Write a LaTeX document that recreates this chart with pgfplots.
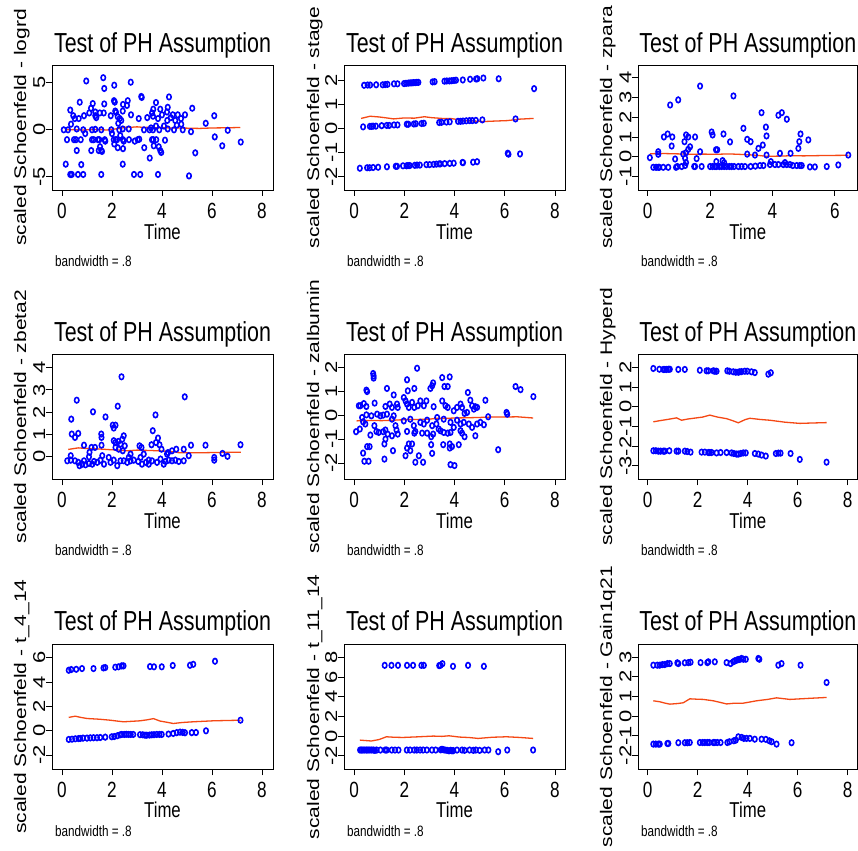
\documentclass[border=0pt]{standalone}
\usepackage{fontspec}
\setmainfont{Liberation Sans}
\newfontfamily\cf{Liberation Sans}[FakeStretch=0.78]
\usepackage{graphicx}
\usepackage{pgfplots}
\pgfplotsset{compat=1.18}
\definecolor{lowess}{RGB}{245,72,20}
\newcommand\xtf{\cf\fontsize{22pt}{22pt}\selectfont}
\newcommand\ytf{\fontsize{22pt}{22pt}\selectfont}
\newcommand\ttf{\cf\fontsize{27.5pt}{27.5pt}\selectfont}
\newcommand\ltf{\fontsize{21pt}{21pt}\selectfont}
\newcommand\tmf{\cf\fontsize{21.5pt}{21.5pt}\selectfont}
\newcommand\nbf{\cf\fontsize{15pt}{15pt}\selectfont}
\pgfplotsset{
  ph/.style={
    scale only axis, height=125pt,
    axis line style={line width=0.9pt},
    tick style={line width=0.9pt, black},
    tick align=outside, major tick length=6pt,
    tick pos=left,
    /pgf/number format/assume math mode=true,
    xticklabel style={font=\xtf, anchor=base, yshift=-22.5pt, inner sep=0pt},
    yticklabel={\scalebox{1}[0.78]{\pgfmathprintnumber{\tick}}},
    yticklabel style={font=\ytf, inner sep=0pt, xshift=-1pt, rotate=90, anchor=base},
  },
  sc/.style={only marks, mark=o, blue, mark size=2.75pt, mark options={xscale=0.8, line width=1.6pt}},
  lw/.style={no marks, lowess, line width=1.3pt},
}
\newcommand\ptext[9]{%
  \node[anchor=base, inner sep=0pt, font=\ttf] at (#1pt,#4pt) {Test of PH Assumption};
  \node[anchor=base, inner sep=0pt, font=\tmf] at (#1pt,#5pt) {Time};
  \node[anchor=base, inner sep=0pt, rotate=90, font=\ltf] at (#2pt,#3pt) {\scalebox{1}[0.8]{scaled Schoenfeld - #9}};
  \node[anchor=base west, inner sep=0pt, font=\nbf] at (#7pt,#6pt) {bandwidth = .8};
  \ignorespaces#8}
\begin{document}
\begin{tikzpicture}
\useasboundingbox (0,0) rectangle (858pt,850pt);
\clip (0,0) rectangle (858pt,850pt);
\fill[white] (0,0) rectangle (858pt,850pt);
% ---------------- Panel 1: logrd
\begin{axis}[ph, at={(52pt,660pt)}, anchor=south west, width=221pt,
  xmin=-0.4, xmax=8.44, ymin=-6.4, ymax=6.9, xtick={0,2,4,6,8}, ytick={-5,0,5}]
\addplot[sc] coordinates {
(0.97,5.2)(1.65,5.55)(1.69,4.4)(2.09,4.75)(2.75,5.07)(3.17,3.55)(3.19,3.45)(4.28,3.5)
(0.71,2.94)(2.08,3.1)(2.11,2.95)(1.23,2.8)(1.69,2.76)(2.63,3.1)(2.6,2.6)(3.76,2.9)
(0.33,2.1)(1.16,2.3)(1.33,1.9)(1.51,1.8)(1.09,1.8)(1.67,1.8)(2.13,2.0)(2.16,1.85)
(2.43,2.0)(2.44,2.7)(3.65,2.2)(3.93,2.2)(4.23,2.4)(5.21,2.3)(6.09,1.5)(5.75,0.7)
(0.45,1.5)(0.51,1.2)(0.67,1.2)(0.88,1.5)(1.33,1.5)(1.37,1.3)(1.95,1.5)(2.23,1.4)
(2.31,1.2)(2.37,1.0)(2.25,0.7)(2.76,1.6)(3.07,1.2)(3.41,1.3)(3.6,1.8)(3.64,1.45)
(3.84,1.2)(4.0,1.6)(4.2,1.9)(4.35,1.3)(4.43,1.6)(4.63,1.6)(4.76,1.2)(4.92,1.6)
(4.53,1.0)(4.21,1.0)(4.77,0.6)(0.07,0)(0.24,0)(0.36,0.6)(0.59,0.1)(0.85,0)
(1.2,0)(1.33,0.05)(1.57,0)(1.97,0)(2.29,0)(2.43,0.1)(2.67,0.1)(3.28,0)(3.5,0)
(3.56,0.2)(3.64,0)(3.76,0.4)(3.89,0)(4.08,0.4)(4.23,0.1)(4.48,0)(4.59,0.5)(4.83,0)
(5.16,-0.2)(6.63,-0.05)(0.2,-1.05)(0.48,-1.05)(0.56,-1.05)(0.75,-1.05)(0.93,-0.4)
(1.2,-1.05)(1.27,-1.05)(1.44,-1.05)(1.49,-1.05)(1.71,-1.05)(2.07,-1.05)(2.15,-1.05)
(2.2,-1.05)(2.44,-1.05)(2.68,-1.05)(2.91,-1.2)(3.03,-1.05)(3.09,-1.0)(3.6,-1.05)
(3.65,-1.05)(3.77,-1.05)(4.12,-1.1)(2.09,-1.5)(2.23,-1.9)(2.47,-1.2)(2.0,-0.4)
(2.33,-0.6)(3.29,-1.9)(3.67,-1.7)(3.87,-1.8)(3.93,-2.2)(3.97,-2.4)(6.11,-0.75)
(6.41,-1.7)(7.15,-1.3)(5.33,-2.45)(0.59,-2.2)(1.17,-2.2)(1.47,-2.2)(1.57,-2.2)
(2.44,-2.0)(1.52,-1.8)(3.51,-3.0)(0.15,-3.65)(0.77,-3.7)(2.43,-3.65)(0.33,-4.75)
(0.39,-4.75)(0.64,-4.75)(0.85,-4.75)(1.57,-4.75)(2.88,-4.75)(3.13,-4.75)(3.84,-4.75)
(5.08,-4.9)(1.73,-1.2)(1.6,-2.3)};
\addplot[lw] coordinates {(0.15,0.0)(0.5,0.02)(0.8,-0.03)(1.0,0.0)(1.3,0.03)(1.5,0.02)(1.8,-0.02)(2.0,0.05)(2.3,0.15)(2.6,0.3)(2.8,0.28)(3.0,0.32)(3.3,0.25)(3.5,0.28)(3.8,0.22)(4.0,0.25)(4.3,0.2)(4.5,0.2)(5.0,0.18)(5.5,0.15)(6.0,0.2)(6.6,0.22)(7.13,0.25)};
\end{axis}
% ---------------- Panel 2: stage
\begin{axis}[ph, at={(344pt,660pt)}, anchor=south west, width=221pt,
  xmin=-0.4, xmax=8.4, ymin=-2.55, ymax=2.62, xtick={0,2,4,6,8}, ytick={-2,-1,0,1,2}]
\addplot[sc] coordinates {
(0.4,1.78)(0.54,1.79)(0.64,1.79)(0.88,1.8)(1.14,1.8)(1.24,1.81)(1.33,1.82)(1.59,1.84)
(1.73,1.84)(1.99,1.85)(2.07,1.86)(2.16,1.87)(2.23,1.88)(2.3,1.88)(2.36,1.89)(2.43,1.89)
(2.5,1.9)(2.56,1.9)(3.13,1.92)(3.21,1.93)(3.6,1.95)(3.69,1.96)(3.8,1.96)(3.89,1.97)
(3.98,1.98)(4.06,1.99)(4.33,2.0)(4.62,2.03)(4.86,2.04)(4.91,2.05)(5.15,2.08)(5.76,2.05)(7.17,1.64)
(0.36,0.06)(0.63,0.08)(0.7,0.08)(0.76,0.09)(0.87,0.09)(1.1,0.11)(1.3,0.12)(1.4,0.12)
(1.59,0.14)(1.73,0.14)(2.1,0.17)(2.16,0.17)(2.38,0.18)(2.46,0.19)(2.69,0.2)(2.78,0.21)
(3.39,0.24)(3.48,0.25)(3.68,0.26)(3.81,0.27)(4.14,0.29)(4.24,0.29)(4.34,0.3)(4.47,0.31)
(4.6,0.32)(4.71,0.32)(4.85,0.33)(5.11,0.35)(6.43,0.39)
(0.23,-1.65)(0.52,-1.63)(0.62,-1.63)(0.76,-1.62)(0.96,-1.61)(1.31,-1.59)(1.66,-1.57)
(1.71,-1.57)(1.95,-1.55)(2.09,-1.55)(2.15,-1.54)(2.22,-1.54)(2.42,-1.53)(2.51,-1.52)
(2.62,-1.52)(2.88,-1.5)(3.01,-1.5)(3.17,-1.49)(3.28,-1.48)(3.39,-1.47)(3.44,-1.47)
(3.61,-1.46)(3.81,-1.45)(3.97,-1.44)(4.32,-1.41)(4.34,-1.42)(4.74,-1.4)(4.9,-1.38)
(6.12,-1.03)(6.15,-1.07)(6.61,-1.06)};
\addplot[lw] coordinates {(0.28,0.41)(0.64,0.5)(1.0,0.47)(1.3,0.43)(1.57,0.39)(2.0,0.43)(2.4,0.42)(2.8,0.48)(3.1,0.44)(3.5,0.41)(3.9,0.4)(4.36,0.32)(4.8,0.3)(5.15,0.28)(5.6,0.3)(6.1,0.32)(6.6,0.38)(7.15,0.41)};
\end{axis}
% ---------------- Panel 3: zpara
\begin{axis}[ph, at={(638.3pt,660pt)}, anchor=south west, width=219pt,
  xmin=-0.3, xmax=6.72, ymin=-1.69, ymax=4.65, xtick={0,2,4,6}, ytick={-1,0,1,2,3,4}]
\addplot[sc] coordinates {
(0.07,-0.05)(0.34,0.25)(0.34,0.12)(0.18,-0.54)(0.27,-0.54)(0.37,-0.54)(0.5,-0.54)
(0.66,-0.54)(0.91,-0.54)(0.52,1.0)(0.64,1.15)(0.79,1.0)(0.72,2.62)(0.77,0.54)(0.88,-0.12)
(0.98,2.88)(0.95,-0.5)(1.09,-0.5)(1.2,-0.45)(1.18,0.76)(1.23,1.1)(1.3,1.0)(1.14,0.13)
(1.23,0.2)(1.3,0.37)(1.2,-0.08)(1.23,-0.3)(1.36,0.5)(1.52,1.0)(1.49,-0.5)(1.52,-0.5)
(1.57,-0.1)(1.68,3.58)(1.68,0.25)(1.73,-0.5)(2.05,1.25)(2.08,1.1)(2.0,-0.5)(2.08,-0.5)
(2.16,-0.5)(2.21,-0.5)(2.3,-0.5)(2.37,-0.5)(2.45,-0.5)(2.53,-0.5)(2.62,-0.5)(2.69,-0.5)
(2.77,-0.5)(2.91,-0.5)(3.01,-0.5)(3.12,-0.5)(2.19,0.35)(2.23,0.35)(2.2,-0.25)(2.43,1.15)
(2.45,-0.3)(2.64,0.75)(2.75,3.08)(3.07,1.44)(3.19,0.88)(3.19,0.13)(3.3,0.76)(3.44,0.08)
(3.55,0.42)(3.65,2.23)(3.69,0.59)(3.79,1.5)(3.81,1.05)(3.81,0.08)(3.3,-0.5)(3.45,-0.48)
(3.6,-0.45)(3.71,-0.45)(3.92,-0.4)(4.08,-0.4)(4.19,-0.4)(3.95,-0.25)(4.19,2.1)(4.3,2.23)
(4.46,1.9)(4.24,0.17)(4.35,-0.4)(4.4,-0.3)(4.46,-0.4)(4.56,-0.4)(4.65,-0.45)(4.78,-0.45)
(4.88,-0.45)(4.94,-0.45)(4.58,0.17)(4.83,0.42)(4.86,0.76)(4.9,1.15)(5.15,0.85)(5.2,-0.52)
(5.36,-0.52)(5.74,-0.5)(6.11,-0.42)(6.43,0.08)(0.34,-0.54)(2.4,-0.2)};
\addplot[lw] coordinates {(0.07,0.15)(0.5,0.16)(1.0,0.14)(1.4,0.12)(1.8,0.13)(2.2,0.12)(2.6,0.14)(2.9,0.12)(3.2,0.1)(3.5,0.07)(3.8,0.02)(4.3,0.03)(4.6,0.05)(5.0,0.04)(5.7,0.06)(6.43,0.07)};
\end{axis}
% ---------------- Panel 4: zbeta2
\begin{axis}[ph, at={(52pt,370.7pt)}, anchor=south west, width=221pt,
  xmin=-0.4, xmax=8.44, ymin=-1.01, ymax=4.6, xtick={0,2,4,6,8}, ytick={0,1,2,3,4}]
\addplot[sc] coordinates {
(2.38,3.59)(4.91,2.69)(0.59,2.54)(1.24,2.02)(2.23,2.27)(0.37,1.69)(1.74,1.79)(3.74,1.88)
(2.03,1.42)(2.14,1.42)(2.07,1.29)(1.57,1.02)(1.58,0.87)(0.39,1.02)(0.52,0.87)(0.65,1.05)
(3.63,1.17)(0.88,0.52)(1.18,0.42)(1.32,0.42)(1.1,0.2)(1.58,0.52)(2.07,0.72)(2.14,0.64)
(2.25,0.69)(2.34,0.57)(2.41,0.79)(2.47,0.94)(2.14,0.42)(2.27,0.34)(2.43,0.27)(2.51,0.49)
(3.1,0.49)(3.18,0.42)(3.58,0.54)(3.76,0.64)(3.84,0.84)(3.9,0.54)(3.98,0.34)(4.24,0.19)
(4.4,0.27)(4.57,0.34)(4.87,0.34)(5.16,0.52)(5.74,0.52)(7.14,0.54)(6.09,-0.03)(6.09,-0.15)
(6.42,0.15)(6.62,0.02)(0.21,-0.18)(0.35,-0.15)(0.52,-0.18)(0.65,-0.25)(0.7,-0.4)(0.81,-0.33)
(0.94,-0.36)(1.08,-0.3)(1.28,-0.21)(1.41,-0.25)(1.54,-0.15)(1.68,-0.33)(1.94,-0.25)
(2.07,-0.15)(2.21,-0.4)(2.34,-0.18)(2.47,-0.18)(2.61,-0.25)(2.74,-0.18)(2.87,-0.15)
(3.05,-0.21)(3.2,-0.33)(3.36,-0.25)(3.47,-0.15)(3.6,-0.18)(3.8,-0.25)(3.94,-0.1)(4.14,-0.21)
(4.27,-0.15)(4.4,-0.18)(4.53,-0.15)(4.67,-0.21)(4.87,-0.18)(5.07,0.05)(1.61,0.05)(1.08,0)
(0.35,0.05)(2.74,0.12)(3.27,0.12)(4.2,0.12)(3.14,-0.03)(2.67,-0.03)(0.88,-0.18)(1.87,-0.03)
(3.47,-0.33)(4.07,-0.33)(1.21,-0.33)};
\addplot[lw] coordinates {(0.25,0.33)(0.65,0.4)(1.0,0.37)(1.5,0.35)(1.9,0.32)(2.3,0.3)(2.6,0.27)(3.0,0.3)(3.3,0.29)(3.6,0.28)(4.2,0.25)(4.5,0.22)(4.7,0.18)(5.0,0.18)(5.5,0.18)(6.0,0.19)(6.5,0.2)(7.15,0.2)};
\end{axis}
% ---------------- Panel 5: zalbumin
\begin{axis}[ph, at={(344pt,370.7pt)}, anchor=south west, width=221pt,
  xmin=-0.4, xmax=8.4, ymin=-2.67, ymax=2.53, xtick={0,2,4,6,8}, ytick={-2,-1,0,1,2}]
\addplot[sc] coordinates {
(2.51,1.95)(0.76,1.73)(0.78,1.63)(0.78,1.54)(2.11,1.47)(3.15,1.34)(3.11,1.22)(3.04,1.11)
(3.51,1.56)(3.81,1.59)(3.6,1.19)(3.73,1.19)(6.43,1.19)(6.63,1.06)(7.14,0.77)(0.49,1.04)
(0.52,0.98)(1.31,1.11)(1.58,0.84)(2.14,1.01)(2.4,1.11)(4.53,0.94)(0.19,0.39)(0.25,0.39)
(0.39,0.48)(0.49,0.36)(0.82,0.5)(1.25,0.36)(1.42,0.46)(1.51,0.32)(1.71,0.46)(1.74,0.32)
(1.98,0.73)(2.05,0.59)(2.11,0.46)(2.18,0.32)(2.31,0.53)(2.4,0.32)(2.54,0.39)(2.64,0.59)
(2.78,0.39)(2.88,0.59)(3.17,0.35)(3.51,0.59)(3.64,0.39)(3.73,0.32)(3.97,0.18)(4.1,0.32)
(4.24,0.46)(4.3,0.32)(4.4,0.07)(4.5,0.11)(4.63,0.62)(4.7,0.39)(4.83,0.35)(4.9,0.32)
(4.77,0.25)(5.23,0.62)(5.34,-0.07)(6.07,0.11)(6.1,0.04)(0.32,-0.1)(0.49,0.01)(0.69,-0.03)
(0.92,0.04)(1.05,-0.03)(1.16,0)(1.31,0.04)(1.51,-0.17)(1.58,-0.03)(0.08,-0.69)(0.23,-0.58)
(0.36,-0.28)(0.45,-0.37)(0.65,-0.83)(0.81,-0.44)(0.89,-0.68)(0.98,-0.72)(1.16,-0.69)
(1.25,-0.62)(1.34,-0.79)(1.51,-0.86)(1.65,-0.44)(1.69,-0.62)(1.74,-0.79)(2.11,-0.68)
(2.4,-0.75)(2.44,-0.68)(2.71,-0.75)(2.91,-0.75)(3.07,-0.9)(3.15,-0.79)(3.44,-0.65)
(3.57,-0.72)(3.73,-0.75)(3.84,-0.72)(3.97,-0.51)(4.24,-0.65)(4.3,-0.75)(4.4,-0.9)
(4.83,-0.86)(3.28,-0.37)(3.37,-0.58)(2.38,-0.44)(0.36,-1.58)(0.52,-1.31)(0.62,-1.31)
(0.41,-1.92)(0.58,-1.92)(1.21,-1.83)(1.25,-1.0)(1.21,-1.2)(1.55,-1.48)(2.05,-1.69)
(2.11,-1.37)(2.18,-1.2)(2.31,-1.2)(2.24,-1.48)(2.44,-1.96)(2.75,-1.96)(2.58,-1.69)
(3.07,-1.23)(3.11,-1.59)(3.55,-1.23)(3.81,-1.2)(3.9,-1.31)(4.17,-1.23)(3.84,-2.06)
(4.0,-2.1)(5.74,-1.44)(3.81,-1.37)(1.98,-0.24)(2.24,-0.17)(2.64,-0.3)(2.91,-0.21)
(3.31,-0.1)(3.57,-0.17)(3.84,-0.3)(4.1,-0.21)(4.37,-0.3)(4.57,-0.37)(4.7,-0.51)(4.9,-0.37)
(5.03,-0.3)(5.17,-0.4)(4.24,-0.37)(3.11,-0.44)(2.78,-0.37)};
\addplot[lw] coordinates {(0.1,-0.24)(0.6,-0.22)(1.1,-0.23)(1.6,-0.21)(2.0,-0.19)(2.5,-0.18)(3.0,-0.17)(3.3,-0.13)(3.57,-0.14)(4.0,-0.12)(4.5,-0.11)(4.9,-0.1)(5.5,-0.08)(6.0,-0.08)(6.5,-0.07)(7.13,-0.12)};
\end{axis}
% ---------------- Panel 6: Hyperd
\begin{axis}[ph, at={(638.3pt,370.7pt)}, anchor=south west, width=219pt,
  xmin=-0.37, xmax=8.39, ymin=-3.68, ymax=2.67, xtick={0,2,4,6,8}, ytick={-3,-2,-1,0,1,2}]
\addplot[sc] coordinates {
(0.23,1.95)(0.47,1.91)(0.63,1.9)(0.69,1.9)(0.76,1.9)(0.83,1.91)(0.89,1.91)(1.23,1.9)
(1.49,1.9)(2.09,1.86)(2.36,1.83)(2.43,1.83)(2.63,1.83)(2.69,1.81)(2.76,1.81)(3.19,1.83)
(3.27,1.81)(3.43,1.78)(3.53,1.76)(3.63,1.76)(3.69,1.78)(3.76,1.79)(3.89,1.81)(3.99,1.81)
(4.16,1.78)(4.29,1.74)(4.83,1.66)(4.93,1.73)
(0.23,-2.23)(0.33,-2.23)(0.43,-2.25)(0.52,-2.25)(0.63,-2.25)(0.69,-2.25)(0.87,-2.23)
(1.16,-2.25)(1.23,-2.25)(1.49,-2.25)(1.59,-2.27)(1.72,-2.3)(2.16,-2.3)(2.29,-2.3)
(2.43,-2.32)(2.49,-2.32)(2.56,-2.32)(2.76,-2.34)(2.92,-2.32)(3.16,-2.32)(3.36,-2.34)
(3.45,-2.37)(3.56,-2.4)(3.63,-2.4)(3.72,-2.37)(3.83,-2.34)(3.93,-2.34)(4.29,-2.37)
(4.43,-2.4)(4.56,-2.45)(4.73,-2.5)(5.13,-2.37)(5.23,-2.35)(5.32,-2.35)(5.72,-2.37)
(6.09,-2.67)(7.16,-2.81)};
\addplot[lw] coordinates {(0.23,-0.76)(0.5,-0.7)(0.8,-0.64)(1.16,-0.56)(1.36,-0.68)(1.6,-0.62)(1.96,-0.56)(2.2,-0.52)(2.49,-0.42)(2.8,-0.52)(3.16,-0.6)(3.4,-0.7)(3.63,-0.81)(3.9,-0.65)(4.09,-0.58)(4.5,-0.64)(4.89,-0.68)(5.5,-0.78)(6.09,-0.84)(6.6,-0.82)(7.16,-0.8)};
\end{axis}
% ---------------- Panel 7: t_4_14
\begin{axis}[ph, at={(52pt,80.7pt)}, anchor=south west, width=221pt,
  xmin=-0.4, xmax=8.44, ymin=-3.16, ymax=7.1, xtick={0,2,4,6,8}, ytick={-2,0,2,4,6}]
\addplot[sc] coordinates {
(0.27,4.97)(0.37,5.03)(0.57,5.05)(0.8,5.11)(1.26,5.11)(1.66,5.16)(1.73,5.19)(2.13,5.22)
(2.26,5.25)(2.39,5.33)(2.46,5.33)(3.52,5.27)(3.68,5.25)(3.99,5.25)(4.43,5.36)(5.12,5.38)
(5.25,5.46)(6.12,5.71)
(0.27,-0.71)(0.4,-0.69)(0.53,-0.66)(0.66,-0.64)(0.73,-0.63)(0.84,-0.6)(1.0,-0.6)
(1.13,-0.58)(1.26,-0.57)(1.4,-0.57)(1.53,-0.55)(1.73,-0.52)(1.99,-0.49)(2.09,-0.47)
(2.22,-0.4)(2.33,-0.33)(2.39,-0.3)(2.49,-0.3)(2.57,-0.29)(2.66,-0.3)(2.75,-0.3)(2.85,-0.3)
(3.12,-0.32)(3.23,-0.33)(3.32,-0.36)(3.39,-0.36)(3.5,-0.35)(3.59,-0.33)(3.68,-0.32)
(3.79,-0.3)(3.9,-0.3)(3.99,-0.3)(4.26,-0.27)(4.45,-0.22)(4.59,-0.15)(4.72,-0.11)
(4.83,-0.13)(4.92,-0.16)(5.19,-0.15)(5.36,-0.14)(5.76,0.0)(7.14,0.87)};
\addplot[lw] coordinates {(0.27,1.1)(0.53,1.2)(0.75,1.1)(1.0,1.01)(1.5,0.95)(1.93,0.87)(2.2,0.8)(2.46,0.74)(2.8,0.78)(3.12,0.82)(3.4,0.9)(3.66,1.0)(3.92,0.8)(4.2,0.7)(4.45,0.6)(4.8,0.68)(5.25,0.74)(6.05,0.82)(7.14,0.87)};
\end{axis}
% ---------------- Panel 8: t_11_14
\begin{axis}[ph, at={(344pt,80.7pt)}, anchor=south west, width=221pt,
  xmin=-0.4, xmax=8.4, ymin=-3.38, ymax=9.34, xtick={0,2,4,6,8}, ytick={-2,0,2,4,6,8}]
\addplot[sc] coordinates {
(1.22,7.2)(1.49,7.2)(1.75,7.2)(2.11,7.2)(2.35,7.2)(2.68,7.2)(2.78,7.2)(3.39,7.17)
(3.44,7.2)(3.52,7.37)(3.94,7.1)(4.54,7.2)(5.17,7.1)
(0.24,-1.42)(0.3,-1.42)(0.36,-1.42)(0.43,-1.42)(0.5,-1.42)(0.56,-1.42)(0.63,-1.42)
(0.7,-1.42)(0.77,-1.42)(0.83,-1.45)(0.9,-1.42)(1.05,-1.42)(1.24,-1.42)(1.3,-1.42)
(1.5,-1.42)(1.63,-1.42)(1.77,-1.42)(2.1,-1.42)(2.23,-1.42)(2.4,-1.42)(2.5,-1.42)
(2.63,-1.42)(2.75,-1.42)(2.9,-1.42)(3.1,-1.42)(3.25,-1.42)(3.45,-1.4)(3.5,-1.35)
(3.55,-1.38)(3.62,-1.42)(3.7,-1.45)(3.78,-1.5)(3.85,-1.45)(3.9,-1.5)(3.95,-1.48)
(4.1,-1.42)(4.3,-1.42)(4.4,-1.45)(4.6,-1.42)(4.75,-1.45)(4.85,-1.42)(5.0,-1.45)
(5.2,-1.42)(5.35,-1.42)(5.74,-1.59)(6.1,-1.42)(7.13,-1.42)};
\addplot[lw] coordinates {(0.23,-0.41)(0.69,-0.5)(1.0,-0.35)(1.29,-0.07)(1.6,-0.12)(1.95,-0.14)(2.5,-0.08)(3.15,0)(3.5,-0.03)(3.78,0.03)(4.2,-0.1)(4.6,-0.15)(4.94,-0.24)(5.5,-0.12)(6.07,-0.07)(6.6,-0.14)(7.13,-0.24)};
\end{axis}
% ---------------- Panel 9: Gain1q21
\begin{axis}[ph, at={(638.3pt,80.7pt)}, anchor=south west, width=219pt,
  xmin=-0.37, xmax=8.39, ymin=-2.7, ymax=3.65, xtick={0,2,4,6,8}, ytick={-2,-1,0,1,2,3}]
\addplot[sc] coordinates {
(0.23,2.59)(0.39,2.59)(0.49,2.59)(0.6,2.62)(0.69,2.62)(0.8,2.67)(0.89,2.67)(1.19,2.71)
(1.23,2.67)(1.49,2.71)(1.63,2.72)(1.72,2.74)(2.12,2.72)(2.39,2.72)(2.43,2.76)(2.69,2.76)
(3.16,2.72)(3.32,2.67)(3.43,2.76)(3.49,2.81)(3.56,2.84)(3.63,2.88)(3.69,2.88)(3.76,2.93)
(3.83,2.89)(3.93,2.89)(4.43,2.93)(4.47,2.89)(5.23,2.59)(5.36,2.67)(6.12,2.59)(7.16,1.71)
(0.23,-1.42)(0.33,-1.42)(0.43,-1.42)(0.49,-1.42)(0.79,-1.39)(0.83,-1.39)(1.23,-1.35)
(1.49,-1.35)(1.59,-1.35)(1.69,-1.34)(2.09,-1.34)(2.2,-1.34)(2.29,-1.34)(2.39,-1.34)
(2.47,-1.34)(2.63,-1.34)(2.69,-1.34)(2.79,-1.34)(2.92,-1.34)(3.19,-1.34)(3.27,-1.3)
(3.45,-1.25)(3.53,-1.22)(3.63,-1.05)(3.76,-1.08)(3.85,-1.13)(3.96,-1.13)(4.09,-1.13)
(4.29,-1.17)(4.56,-1.17)(4.73,-1.18)(4.87,-1.25)(4.96,-1.3)(5.16,-1.42)(5.76,-1.35)};
\addplot[lw] coordinates {(0.23,0.78)(0.49,0.73)(0.7,0.66)(0.89,0.61)(1.2,0.64)(1.43,0.68)(1.69,0.88)(2.0,0.86)(2.23,0.85)(2.63,0.78)(2.9,0.7)(3.16,0.62)(3.5,0.66)(3.83,0.66)(4.1,0.72)(4.36,0.78)(4.8,0.85)(5.16,0.93)(5.69,0.85)(6.4,0.9)(7.16,0.95)};
\end{axis}
% ---------------- texts
\ptext{162.5}{26}{722.5}{797}{610}{583}{55}{}{logrd}
\ptext{454.5}{319}{722.5}{797}{610}{583}{347}{}{stage}
\ptext{747.8}{612}{722.5}{797}{610}{583}{641}{}{zpara}
\ptext{162.5}{26}{433.3}{508}{321}{294}{55}{}{zbeta2}
\ptext{454.5}{319}{433.3}{508}{321}{294}{347}{}{zalbumin}
\ptext{747.8}{612}{433.3}{508}{321}{294}{641}{}{Hyperd}
\ptext{162.5}{26}{143.3}{219}{32}{13}{55}{}{t\_4\_14}
\ptext{454.5}{319}{143.3}{219}{32}{13}{347}{}{t\_11\_14}
\ptext{747.8}{612}{143.3}{219}{32}{13}{641}{}{Gain1q21}
\end{tikzpicture}
\end{document}
